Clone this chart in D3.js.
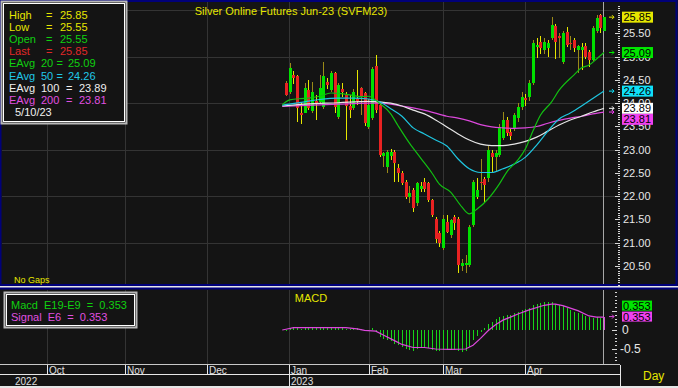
<!DOCTYPE html>
<html>
<head>
<meta charset="utf-8">
<script src="https://cdn.jsdelivr.net/npm/d3@7"></script>
<style>
body { margin: 0; background: #e6e6e6; }
svg { display: block; font-family: "Liberation Sans", Arial, sans-serif; }
</style>
</head>
<body>
<script>
// daily bars, Silver futures SVFM23 (index 0 = first bar)
const opens = [24.44,24.25,24.60,24.58,23.80,23.80,24.28,23.84,24.05,24.03,23.92,24.46,24.28,24.64,23.70,24.30,24.18,23.95,23.89,24.10,
  24.32,24.21,23.49,23.68,24.80,23.96,22.86,22.63,22.87,22.96,22.61,22.51,22.31,21.99,22.13,21.85,22.15,22.31,22.28,21.92,
  21.52,21.20,20.88,21.45,21.17,21.56,21.52,20.50,20.52,20.52,21.38,21.99,22.31,22.37,22.40,22.94,22.85,22.89,23.25,23.64,
  23.39,23.46,23.68,23.92,24.11,24.14,24.43,25.22,25.32,25.14,25.18,25.40,25.65,25.45,24.89,25.54,25.30,25.36,25.14,25.15,
  25.22,25.11,24.93,25.55,25.90,25.55];
const highs = [24.47,24.87,24.69,24.60,24.00,24.43,24.50,24.46,24.18,24.61,24.89,24.55,24.70,24.67,24.43,24.44,24.25,24.18,24.30,24.71,
  24.35,24.25,24.10,24.78,25.04,24.00,22.96,23.00,23.02,23.00,22.70,22.55,22.35,22.21,22.18,22.31,22.31,22.40,22.30,21.95,
  21.55,21.25,21.60,21.60,21.50,21.60,21.55,20.65,20.74,21.38,22.35,22.39,22.80,22.42,23.08,23.00,23.00,23.55,23.82,23.70,
  23.45,23.80,24.00,24.25,24.20,24.50,25.36,25.40,25.45,25.40,25.36,25.86,25.70,25.50,25.55,25.64,25.45,25.40,25.25,25.30,
  25.30,25.15,25.65,25.90,25.92,25.85];
const lows = [24.15,24.20,24.41,23.60,23.55,23.78,23.85,23.80,23.64,23.98,23.88,24.30,24.25,23.78,23.66,24.14,23.21,23.68,23.85,23.96,
  23.75,23.50,23.45,23.64,23.80,22.85,22.63,22.50,22.78,22.31,22.31,22.25,21.95,21.85,21.67,21.80,22.10,22.10,21.88,21.55,
  21.00,20.90,20.85,21.20,21.10,21.27,20.34,20.40,20.34,20.48,21.34,21.95,22.13,21.85,22.30,22.53,22.55,22.85,23.20,23.30,
  23.20,23.40,23.60,23.85,23.95,24.05,24.40,24.97,25.05,25.05,25.00,25.35,24.95,24.97,24.85,25.20,25.15,25.10,24.64,24.72,
  24.95,24.78,24.90,25.50,25.50,25.55];
const closes = [24.18,24.75,24.55,23.89,23.75,24.32,23.89,24.25,24.00,24.32,24.58,24.39,24.66,23.92,24.39,24.25,23.95,23.85,24.25,24.05,
  24.14,23.57,23.96,24.73,23.85,22.89,22.93,22.96,22.95,22.71,22.50,22.28,21.99,22.07,21.74,22.28,22.21,22.15,21.92,21.60,
  21.09,20.99,21.52,21.24,21.49,21.42,20.52,20.56,20.56,21.34,22.31,22.13,22.28,22.24,23.00,22.85,22.93,23.49,23.64,23.35,
  23.30,23.75,23.92,24.14,24.07,24.43,25.29,25.25,25.18,25.32,25.30,25.68,25.32,25.40,25.50,25.25,25.28,25.18,25.22,25.20,
  25.00,24.93,25.61,25.83,25.61,25.85];

// exponential averages as [bar index, value]
const ema20 = [[-1,23.97],[1,24.07],[4,24.10],[6,24.11],[9,24.15],[12,24.22],[14,24.21],[17,24.18],[20,24.14],[22,24.15],
  [25,24.00],[28,23.77],[30,23.51],[33,23.14],[36,22.82],[39,22.50],[41,22.26],[44,22.09],[47,21.77],[49,21.62],[51,21.72],
  [54,21.94],[57,22.26],[59,22.52],[62,22.78],[64,23.02],[66,23.40],[68,23.74],[71,24.03],[73,24.28],[77,24.61],[79,24.76],
  [81,24.82],[83,24.95],[85,25.09]];
const ema50 = [[-1,23.96],[5,24.03],[9,24.08],[14,24.11],[18,24.11],[22,24.09],[25,24.03],[28,23.88],[31,23.72],[34,23.47],
  [37,23.34],[40,23.21],[43,23.08],[46,22.80],[49,22.59],[52,22.51],[55,22.51],[58,22.59],[61,22.69],[64,22.84],[67,23.10],
  [70,23.40],[73,23.66],[76,23.79],[79,23.94],[82,24.10],[85,24.26]];
const ema100 = [[-1,23.94],[5,23.98],[14,24.01],[22,24.04],[25,24.03],[28,24.00],[31,23.94],[34,23.85],[37,23.77],[40,23.64],
  [43,23.49],[46,23.34],[49,23.21],[52,23.12],[55,23.09],[58,23.09],[61,23.12],[64,23.18],[67,23.27],[70,23.40],[73,23.53],
  [76,23.64],[79,23.72],[82,23.81],[85,23.89]];
const ema200 = [[-1,23.93],[14,23.98],[22,24.00],[25,24.00],[28,23.98],[31,23.94],[34,23.90],[38,23.83],[43,23.72],[46,23.68],
  [49,23.62],[52,23.54],[55,23.49],[58,23.47],[61,23.46],[64,23.47],[67,23.50],[70,23.57],[73,23.63],[76,23.68],[79,23.72],
  [82,23.77],[85,23.81]];

// MACD (E19-E9) histogram per bar, signal line (E6)
const macd = [0.00,0.06,0.08,0.04,0.03,0.06,0.04,0.06,0.05,0.06,0.09,0.08,0.09,0.05,0.07,0.06,0.03,0.02,0.04,0.05,
  0.03,-0.03,-0.02,0.05,-0.03,-0.18,-0.24,-0.27,-0.30,-0.36,-0.40,-0.44,-0.50,-0.53,-0.55,-0.50,-0.47,-0.46,-0.48,-0.52,
  -0.55,-0.56,-0.53,-0.53,-0.52,-0.53,-0.56,-0.58,-0.55,-0.44,-0.25,-0.15,-0.05,0.05,0.15,0.22,0.29,0.35,0.38,0.40,
  0.40,0.44,0.48,0.52,0.55,0.57,0.66,0.69,0.71,0.73,0.74,0.73,0.69,0.66,0.64,0.59,0.53,0.48,0.45,0.42,
  0.38,0.34,0.31,0.33,0.32,0.353];
const signal = [[-1,0.00],[0,0.02],[2,0.06],[10,0.06],[16,0.06],[19,0.03],[21,-0.01],[24,-0.03],[26,-0.13],[29,-0.28],
  [31,-0.38],[34,-0.46],[37,-0.46],[40,-0.50],[44,-0.51],[48,-0.50],[50,-0.40],[52,-0.22],[54,-0.02],[56,0.14],[58,0.26],
  [60,0.34],[62,0.42],[65,0.53],[69,0.65],[71,0.68],[72,0.68],[74,0.64],[78,0.51],[81,0.37],[83,0.34],[85,0.34]];
const macdLast = 0.353, signalLast = 0.353;

// month boundaries as bar positions
const months = ["Oct","Nov","Dec","Jan","Feb","Mar","Apr"];
const monthPos = [-64, -43, -21.1, 0.8, 22.1, 42, 63.9];
const years = [["2022", -80.5], ["2023", 0.8]];

const priceTicks = [20.5,21,21.5,22,22.5,23,23.5,24,24.5,25,25.5];
const gridPrices = [21,22,23,24,25,26];

const width = 678;
const height = 388;

const svg = d3.select('body').append('svg')
    .attr('width', width).attr('height', height);

const x = d3.scaleLinear().domain([0, 85]).range([286, 604]);
const y = d3.scaleLinear().domain([20.5, 25]).range([266, 56.7]);
const ym = d3.scaleLinear().domain([-0.5, 0]).range([349, 330]);

const bg = "#141414", grid = "#343434", navy = "#00007a";
const cYellow = "#e6e600", cOlive = "#9a8a18", cUp = "#00e000", cDown = "#e82222";
const c20 = "#12bf12", c50 = "#1fc6e0", c100 = "#e6e6e6", c200 = "#dc48dc";

// panels
svg.append('rect').attr('x', 0).attr('y', 0).attr('width', width).attr('height', 286).attr('fill', bg);
svg.append('rect').attr('x', 0.5).attr('y', 1).attr('width', 676).attr('height', 284)
    .attr('fill', 'none').attr('stroke', navy).attr('stroke-width', 2);
svg.append('rect').attr('x', 0).attr('y', 288).attr('width', width).attr('height', 98).attr('fill', bg);
svg.append('line').attr('x1', 0).attr('x2', width).attr('y1', 288.5).attr('y2', 288.5).attr('stroke', navy).attr('stroke-width', 2);

const crisp = svg.append('g').attr('shape-rendering', 'crispEdges');

// grid
crisp.selectAll('line.hg').data(gridPrices).enter().append('line')
    .attr('x1', 2).attr('x2', 619).attr('y1', d => Math.round(y(d)) + 0.5).attr('y2', d => Math.round(y(d)) + 0.5)
    .attr('stroke', grid);
monthPos.forEach(p => {
    const xp = Math.round(x(p)) + 0.5;
    crisp.append('line').attr('x1', xp).attr('x2', xp).attr('y1', 2).attr('y2', 284).attr('stroke', grid);
    crisp.append('line').attr('x1', xp).attr('x2', xp).attr('y1', 290).attr('y2', 364).attr('stroke', grid);
});

// right edge of data area
crisp.append('line').attr('x1', 603.5).attr('x2', 603.5).attr('y1', 2).attr('y2', 284).attr('stroke', '#a8a8a8');
crisp.append('line').attr('x1', 603.5).attr('x2', 603.5).attr('y1', 290).attr('y2', 364).attr('stroke', '#a8a8a8');

// candles
const bars = d3.range(closes.length);
const candles = crisp.append('g');
candles.selectAll('line').data(bars).enter().append('line')
    .attr('x1', i => Math.round(x(i)) + 0.5).attr('x2', i => Math.round(x(i)) + 0.5)
    .attr('y1', i => y(highs[i])).attr('y2', i => y(lows[i]))
    .attr('stroke', i => (i > 0 && closes[i] < closes[i - 1]) ? cYellow : cOlive);
candles.selectAll('rect').data(bars).enter().append('rect')
    .attr('x', i => Math.round(x(i)) - 1)
    .attr('width', 3)
    .attr('y', i => y(Math.max(opens[i], closes[i])))
    .attr('height', i => Math.max(1.5, Math.abs(y(opens[i]) - y(closes[i]))))
    .attr('fill', i => closes[i] >= opens[i] ? cUp : cDown);

// averages
const line = d3.line().x(d => x(d[0])).y(d => y(d[1])).curve(d3.curveMonotoneX);
[[ema200, c200], [ema100, c100], [ema50, c50], [ema20, c20]].forEach(([d, c]) => {
    svg.append('path').datum(d).attr('d', line).attr('fill', 'none').attr('stroke', c).attr('stroke-width', 1.2);
});

// title
svg.append('text').attr('x', 291).attr('y', 15).attr('text-anchor', 'middle')
    .attr('fill', cYellow).attr('font-size', 11).text('Silver Online Futures Jun-23  (SVFM23)');
svg.append('text').attr('x', 14).attr('y', 283).attr('fill', cYellow).attr('font-size', 9).text('No Gaps');

// price axis
const ticksY = d3.range(20.1, 26.15, 0.05);
crisp.selectAll('line.mt').data(ticksY).enter().append('line')
    .attr('x1', 618).attr('x2', 620).attr('y1', d => Math.round(y(d)) + 0.5).attr('y2', d => Math.round(y(d)) + 0.5)
    .attr('stroke', '#d8d8d8');
crisp.selectAll('line.Mt').data(priceTicks).enter().append('line')
    .attr('x1', 615).attr('x2', 620).attr('y1', d => Math.round(y(d)) + 0.5).attr('y2', d => Math.round(y(d)) + 0.5)
    .attr('stroke', '#d8d8d8');
svg.selectAll('text.pt').data(priceTicks).enter().append('text')
    .attr('x', 623).attr('y', d => y(d) + 4).attr('fill', '#e8e8e8').attr('font-size', 11)
    .text(d => d.toFixed(2));

function arrow(yy, col) {
    svg.append('path').attr('d', `M${609},${yy}H${614}M${612},${yy - 2}L${614},${yy}L${612},${yy + 2}`)
        .attr('stroke', col).attr('fill', 'none').attr('stroke-width', 1);
}
function flag(val, yy, fill) {
    svg.append('rect').attr('x', 622).attr('y', yy - 5.5).attr('width', 31).attr('height', 11).attr('fill', fill);
    svg.append('text').attr('x', 623.5).attr('y', yy + 4).attr('fill', '#000').attr('font-size', 11).text(val);
}
const last = closes[closes.length - 1];
const e20 = ema20[ema20.length - 1][1], e50 = ema50[ema50.length - 1][1];
const e100 = ema100[ema100.length - 1][1], e200 = ema200[ema200.length - 1][1];
flag(last.toFixed(2), y(last), cYellow); arrow(y(last), cYellow);
flag(e20.toFixed(2), y(e20), '#00e600'); arrow(y(e20), '#00e600');
flag(e50.toFixed(2), y(e50), '#10e0f8'); arrow(y(e50), '#10e0f8');
flag(e100.toFixed(2), y(e100), '#ffffff'); arrow(y(e100), '#ffffff');
flag(e200.toFixed(2), y(e100) + 11, '#f040f0'); arrow(y(e200), '#f040f0');

// legend
const lg = svg.append('g');
lg.append('rect').attr('x', 1.5).attr('y', 1.5).attr('width', 125).attr('height', 122)
    .attr('fill', bg).attr('stroke', '#b8b8b8').attr('stroke-width', 2);
lg.append('rect').attr('x', 3.5).attr('y', 3.5).attr('width', 121).attr('height', 118)
    .attr('fill', 'none').attr('stroke', '#ffffff').attr('stroke-width', 1);
const legendRows = [
    [["High", 9], ["=", 46], [highs[highs.length - 1].toFixed(2), 60]],
    [["Low", 9], ["=", 46], [lows[lows.length - 1].toFixed(2), 60]],
    [["Open", 9], ["=", 46], [opens[opens.length - 1].toFixed(2), 60]],
    [["Last", 9], ["=", 46], [last.toFixed(2), 60]],
    [["EAvg", 9], ["20", 41], ["=", 56.5], [e20.toFixed(2), 68]],
    [["EAvg", 9], ["50", 41], ["=", 56.5], [e50.toFixed(2), 68]],
    [["EAvg", 9], ["100", 41], ["=", 66], [e100.toFixed(2), 79]],
    [["EAvg", 9], ["200", 41], ["=", 66], [e200.toFixed(2), 79]],
    [["5/10/23", 15]]
];
const legendColors = [cYellow, cYellow, "#10d010", "#e02828", "#10d010", "#20c8e8", "#f0f0f0", "#e050e0", "#f0f0f0"];
legendRows.forEach((row, r) => {
    row.forEach(([t, xx]) => {
        lg.append('text').attr('x', xx).attr('y', 19 + r * 12.1).attr('fill', legendColors[r])
            .attr('font-size', 11).text(t);
    });
});

// MACD panel
svg.append('text').attr('x', 311).attr('y', 302).attr('text-anchor', 'middle')
    .attr('fill', cYellow).attr('font-size', 11).text('MACD');
crisp.selectAll('rect.hist').data(bars).enter().append('rect')
    .attr('x', i => Math.round(x(i)) - 0.5)
    .attr('width', 1.6)
    .attr('y', i => Math.min(ym(macd[i]), ym(0)))
    .attr('height', i => Math.max(1, Math.abs(ym(macd[i]) - ym(0))))
    .attr('fill', i => i === macd.length - 1 ? c200 : '#18d418');
svg.append('path').datum(signal).attr('d', d3.line().x(d => x(d[0])).y(d => ym(d[1])))
    .attr('fill', 'none').attr('stroke', c200).attr('stroke-width', 1.2);

const mTicks = d3.range(-0.8, 1.05, 0.1);
crisp.selectAll('line.mm').data(mTicks).enter().append('line')
    .attr('x1', 615).attr('x2', 617).attr('y1', d => Math.round(ym(d)) + 0.5).attr('y2', d => Math.round(ym(d)) + 0.5)
    .attr('stroke', '#d8d8d8');
crisp.selectAll('line.mM').data([-0.5, 0, 0.5]).enter().append('line')
    .attr('x1', 612).attr('x2', 617).attr('y1', d => Math.round(ym(d)) + 0.5).attr('y2', d => Math.round(ym(d)) + 0.5)
    .attr('stroke', '#d8d8d8');
svg.selectAll('text.ml').data([[0, "0"], [-0.5, "-0.5"]]).enter().append('text')
    .attr('x', d => d[0] === 0 ? 622 : 620).attr('y', d => ym(d[0]) + 4).attr('fill', '#e8e8e8').attr('font-size', 12)
    .text(d => d[1]);
svg.append('rect').attr('x', 622).attr('y', ym(macdLast) - 16).attr('width', 30).attr('height', 10).attr('fill', '#00e600');
svg.append('text').attr('x', 623).attr('y', ym(macdLast) - 7).attr('fill', '#000').attr('font-size', 11).text(macdLast.toFixed(3));
svg.append('rect').attr('x', 622).attr('y', ym(macdLast) - 5).attr('width', 30).attr('height', 10).attr('fill', '#f040f0');
svg.append('text').attr('x', 623).attr('y', ym(macdLast) + 4).attr('fill', '#000').attr('font-size', 11).text(signalLast.toFixed(3));
arrow(ym(signalLast), c200);

const ml = svg.append('g');
ml.append('rect').attr('x', 4.5).attr('y', 292.5).attr('width', 132).attr('height', 35)
    .attr('fill', bg).attr('stroke', '#b8b8b8').attr('stroke-width', 2);
ml.append('rect').attr('x', 6.5).attr('y', 294.5).attr('width', 128).attr('height', 31)
    .attr('fill', 'none').attr('stroke', '#ffffff');
ml.append('text').attr('x', 11).attr('y', 308.5).attr('fill', '#10d010').attr('font-size', 11)
    .attr('xml:space', 'preserve').text('Macd  E19-E9  =  ' + macdLast.toFixed(3));
ml.append('text').attr('x', 11).attr('y', 320.5).attr('fill', '#e050e0').attr('font-size', 11)
    .attr('xml:space', 'preserve').text('Signal  E6  =  ' + signalLast.toFixed(3));

// date axis
crisp.append('line').attr('x1', 0).attr('x2', 620).attr('y1', 364.5).attr('y2', 364.5).attr('stroke', '#c8c8c8');
crisp.append('line').attr('x1', 0).attr('x2', 620).attr('y1', 374.5).attr('y2', 374.5).attr('stroke', '#e8e8e8');
crisp.append('line').attr('x1', 620.5).attr('x2', 620.5).attr('y1', 365).attr('y2', 386).attr('stroke', '#e8e8e8');
months.forEach((m, k) => {
    const xp = Math.round(x(monthPos[k])) + 0.5;
    crisp.append('line').attr('x1', xp).attr('x2', xp).attr('y1', 365).attr('y2', m === "Jan" ? 386 : 374)
        .attr('stroke', '#e8e8e8');
    svg.append('text').attr('x', xp + 1.5).attr('y', 373.5).attr('fill', '#e0e0e0').attr('font-size', 10).text(m);
});
years.forEach(([t, p]) => {
    svg.append('text').attr('x', Math.max(15, x(p) + 2)).attr('y', 384.5).attr('fill', '#e0e0e0').attr('font-size', 10).text(t);
});
svg.append('text').attr('x', 643).attr('y', 380).attr('fill', cYellow).attr('font-size', 12).text('Day');
</script>
</body>
</html>
